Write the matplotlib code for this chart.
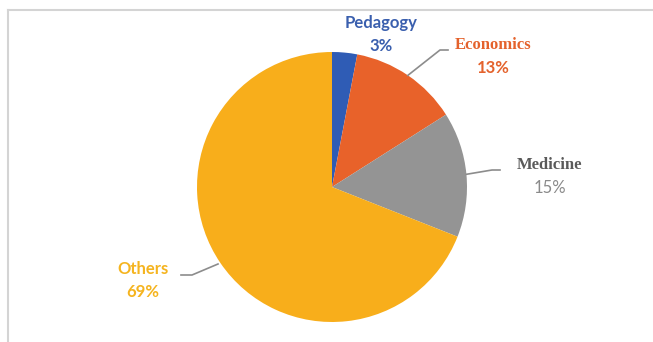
import numpy as np
import matplotlib
matplotlib.use('Agg')
import matplotlib.pyplot as plt
from matplotlib.lines import Line2D

# Data
labels = ['Pedagogy', 'Economics', 'Medicine', 'Others']
shares = [3, 13, 15, 69]
colors = ['#2f5cb5', '#e8622a', '#949494', '#f8ae1b']
text_colors = ['#3a5fae', '#e4622c', '#5a5a5a', '#f5b41f']
pct_colors = ['#3a5fae', '#e4622c', '#8a8a8a', '#f5b41f']

W, H = 653, 342
fig = plt.figure(figsize=(W / 100, H / 100), dpi=100)
ax = fig.add_axes([0, 0, 1, 1])

# Frame (top and left edge visible)
fig.add_artist(Line2D([8 / W, 1], [1 - 10 / H, 1 - 10 / H], color='#d4d4d4', lw=1.5))
fig.add_artist(Line2D([8 / W, 8 / W], [0, 1 - 10 / H], color='#d4d4d4', lw=1.5))

cx, cy, r = 332, H - 187, 135
wedges, _ = ax.pie(shares, colors=colors, startangle=90, counterclock=False,
                   center=(cx, cy), radius=r, frame=True)
ax.set_xlim(0, W)
ax.set_ylim(0, H)
ax.set_aspect('equal')
ax.axis('off')

# Label layout (pixel positions, y measured from top)
label_pos = [(381, 23), (493, 45), (550, 165), (143, 269)]
serif = [False, True, True, False]
leaders = {
    1: [(440, 50), (448, 50)],
    2: [(492, 170), (500, 170)],
    3: [(218, 264), (192, 275), (181, 275)],
}

for i, (lab, s) in enumerate(zip(labels, shares)):
    x, y = label_pos[i]
    fam = 'Liberation Serif' if serif[i] else 'Lato'
    ax.text(x, H - y, lab, ha='center', va='center', fontsize=12,
            fontweight='bold', family=fam, color=text_colors[i])
    ax.text(x, H - y - 23, f'{s}%', ha='center', va='center', fontsize=12,
            fontweight='bold' if i != 2 else 'normal', family='Lato',
            color=pct_colors[i])
    if i in leaders:
        w = wedges[i]
        mid = np.deg2rad((w.theta1 + w.theta2) / 2)
        pts = [] if i == 3 else [(cx + r * np.cos(mid), cy + r * np.sin(mid))]
        pts += [(px, H - py) for px, py in leaders[i]]
        xs, ys = zip(*pts)
        ax.plot(xs, ys, color='#8c8c8c', lw=1.2)

fig.savefig('out.png', dpi=100)
